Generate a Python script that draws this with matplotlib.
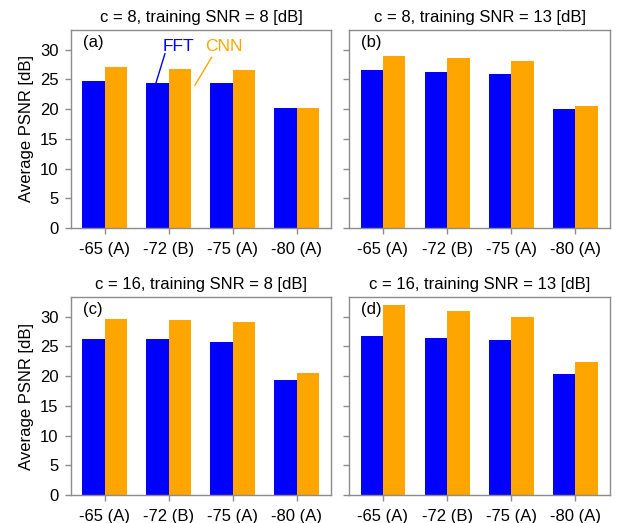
import numpy as np
import matplotlib
matplotlib.use('Agg')
import matplotlib.pyplot as plt

plt.rcParams['font.family'] = ['Liberation Sans', 'DejaVu Sans']
plt.rcParams['font.size'] = 12

# ---------------- data ----------------
categories = ['-65 (A)', '-72 (B)', '-75 (A)', '-80 (A)']
titles = ['c = 8, training SNR = 8 [dB]', 'c = 8, training SNR = 13 [dB]',
          'c = 16, training SNR = 8 [dB]', 'c = 16, training SNR = 13 [dB]']
panel_tags = ['(a)', '(b)', '(c)', '(d)']

fft_a = [24.8, 24.4, 24.4, 20.25]
cnn_a = [27.0, 26.8, 26.5, 20.1]
fft_b = [26.6, 26.2, 25.9, 20.0]
cnn_b = [29.0, 28.6, 28.05, 20.6]
fft_c = [26.3, 26.2, 25.8, 19.3]
cnn_c = [29.6, 29.4, 29.15, 20.5]
fft_d = [26.7, 26.4, 26.05, 20.4]
cnn_d = [31.9, 31.0, 29.9, 22.4]

fft_all = [fft_a, fft_b, fft_c, fft_d]
cnn_all = [cnn_a, cnn_b, cnn_c, cnn_d]

FFT_COLOR = '#0000ff'
CNN_COLOR = '#ffa500'
SPINE = '#8c8c8c'

fig = plt.figure(figsize=(6.22, 5.23), dpi=100)
W, H = 622.0, 523.0
# axes boxes in pixels: left, top, right, bottom
boxes = [(71, 30, 331, 228), (349, 30, 610, 228),
         (71, 297, 331, 495), (349, 297, 610, 495)]

x = np.arange(len(categories))
bw = 0.35

for i in range(4):
    l, t, r, b = boxes[i]
    ax = fig.add_axes([l / W, 1 - b / H, (r - l) / W, (b - t) / H])
    ax.bar(x - bw, fft_all[i], width=bw, align='edge', color=FFT_COLOR)
    ax.bar(x, cnn_all[i], width=bw, align='edge', color=CNN_COLOR)
    ax.set_xlim(-0.53, 3.54)
    ax.set_ylim(0, 33.3)
    ax.set_xticks(x)
    ax.set_xticklabels(categories)
    ax.set_yticks(np.arange(0, 31, 5))
    ax.tick_params(axis='both', direction='out', length=4, width=1, color=SPINE)
    ax.tick_params(axis='x', pad=6)
    ax.tick_params(axis='y', pad=5)
    for sp in ax.spines.values():
        sp.set_color(SPINE)
        sp.set_linewidth(1)
    ax.set_title(titles[i], fontsize=12, pad=6)
    ax.text(0.045, 0.935, panel_tags[i], transform=ax.transAxes,
            ha='left', va='center', fontsize=12)
    if i % 2 == 0:
        ax.set_ylabel('Average PSNR [dB]', fontsize=12, labelpad=4)
    else:
        ax.set_yticklabels([])
    if i == 0:
        # inline legend with pointer lines
        ax.text(1.15, 30.5, 'FFT', color=FFT_COLOR, ha='center', va='center', fontsize=12.5)
        ax.plot([0.94, 0.80], [29.3, 24.4], color=FFT_COLOR, lw=1)
        ax.text(1.86, 30.5, 'CNN', color=CNN_COLOR, ha='center', va='center', fontsize=12.5)
        ax.plot([1.67, 1.41], [28.7, 24.0], color=CNN_COLOR, lw=1)

fig.savefig('out.png', dpi=100)
